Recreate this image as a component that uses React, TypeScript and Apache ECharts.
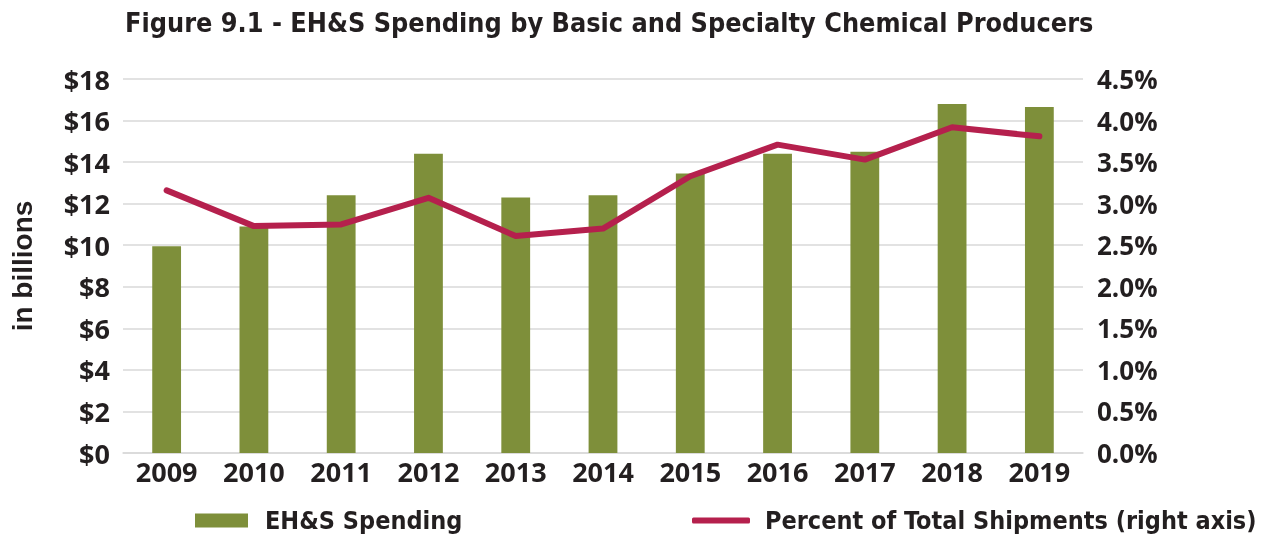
import React, { useEffect, useRef } from "react";
import * as echarts from "echarts";

const years = ["2009", "2010", "2011", "2012", "2013", "2014", "2015", "2016", "2017", "2018", "2019"];
const spending = [9.95, 10.9, 12.4, 14.4, 12.3, 12.4, 13.45, 14.4, 14.5, 16.8, 16.65];
const percentShipments = [3.16, 2.73, 2.75, 3.07, 2.61, 2.7, 3.33, 3.71, 3.53, 3.92, 3.81];

const GREEN = "#7E8F3A";
const CRIMSON = "#B5204D";
const TEXT = "#231F20";
const COND = "DejaVu Sans Condensed";
const AXISFONT = "Open Sans";

export default function App() {
  const ref = useRef<HTMLDivElement>(null);
  useEffect(() => {
    if (!ref.current) return;
    const chart = echarts.init(ref.current, null, { renderer: "svg" });
    chart.setOption({
      animation: false,
      title: {
        text: "Figure 9.1 - EH&S Spending by Basic and Specialty Chemical Producers",
        left: 120,
        top: 4,
        textStyle: { fontFamily: COND, fontWeight: "bold", fontSize: 26.8, color: TEXT },
      },
      legend: [
        {
          data: [{ name: "EH&S Spending", icon: "rect" }],
          left: 195,
          top: 508,
          padding: 0,
          itemWidth: 53,
          itemHeight: 14,
          textStyle: { fontFamily: COND, fontWeight: "bold", fontSize: 25, color: TEXT, padding: [0, 0, 0, 12] },
        },
        {
          data: [{ name: "Percent of Total Shipments (right axis)", icon: "roundRect" }],
          left: 692,
          top: 508,
          padding: 0,
          itemWidth: 58,
          itemHeight: 6,
          textStyle: { fontFamily: COND, fontWeight: "bold", fontSize: 25, color: TEXT, padding: [0, 0, 0, 10] },
        },
      ],
      grid: { left: 123, right: 186, top: 79, bottom: 82, containLabel: false },
      xAxis: {
        type: "category",
        data: years,
        axisLine: { show: true, lineStyle: { color: "#D9D9D9", width: 1.5 } },
        axisTick: { show: false },
        axisLabel: { fontFamily: AXISFONT, fontWeight: "bold", fontSize: 27, color: TEXT, margin: 5 },
      },
      yAxis: [
        {
          type: "value",
          min: 0,
          max: 18,
          interval: 2,
          name: "in billions",
          nameLocation: "middle",
          nameGap: 101,
          nameRotate: 90,
          nameTextStyle: { fontFamily: "Liberation Sans", fontWeight: "bold", fontSize: 28, color: TEXT, verticalAlign: "middle" },
          axisLine: { show: false },
          axisTick: { show: false },
          splitLine: { lineStyle: { color: "#D9D9D9", width: 1.5 } },
          axisLabel: {
            fontFamily: AXISFONT,
            fontWeight: "bold",
            fontSize: 27,
            color: TEXT,
            margin: 13,
            formatter: (v: number) => "$" + v,
          },
        },
        {
          type: "value",
          min: 0,
          max: 4.5,
          interval: 0.5,
          axisLine: { show: false },
          axisTick: { show: false },
          splitLine: { show: false },
          axisLabel: {
            fontFamily: AXISFONT,
            fontWeight: "bold",
            fontSize: 26,
            color: TEXT,
            margin: 14,
            formatter: (v: number) => v.toFixed(1) + "%",
          },
        },
      ],
      series: [
        {
          name: "EH&S Spending",
          type: "bar",
          data: spending,
          barWidth: "33%",
          itemStyle: { color: GREEN },
        },
        {
          name: "Percent of Total Shipments (right axis)",
          type: "line",
          yAxisIndex: 1,
          data: percentShipments,
          symbol: "none",
          lineStyle: { color: CRIMSON, width: 6, cap: "round", join: "round" },
          itemStyle: { color: CRIMSON },
        },
      ],
    });
    return () => chart.dispose();
  }, []);
  return <div ref={ref} style={{ position: "fixed", left: 0, top: 0, width: 1269, height: 535 }} />;
}
